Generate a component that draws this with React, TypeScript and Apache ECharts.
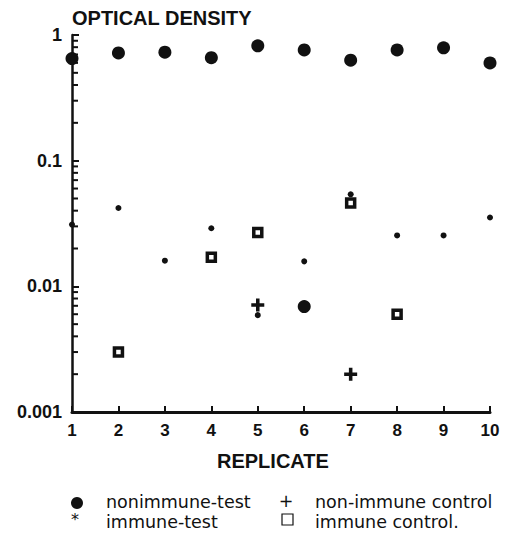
import React, { useEffect, useRef } from "react";
import * as echarts from "echarts";

const replicates = [1, 2, 3, 4, 5, 6, 7, 8, 9, 10];
const nonimmuneTest = [0.65, 0.72, 0.73, 0.66, 0.82, 0.76, 0.63, 0.76, 0.79, 0.6];
const nonimmuneTestExtra = [[6, 0.0069]];
const immuneTest = [0.031, 0.042, 0.016, 0.029, 0.0059, 0.0158, 0.054, 0.0254, 0.0254, 0.0353];
const immuneControl = [[2, 0.003], [4, 0.017], [5, 0.0268], [7, 0.046], [8, 0.006]];
const nonImmuneControl = [[5, 0.0071], [7, 0.002]];
const decades = [0.001, 0.01, 0.1];
const minorMultipliers = [2, 3, 4, 5, 6, 7, 8, 9];

const INK = "#111";
const PLUS = "path://M4,0H7V4H11V7H7V11H4V7H0V4H4Z";

export default function App() {
  const ref = useRef<HTMLDivElement>(null);
  useEffect(() => {
    if (!ref.current) return;
    const chart = echarts.init(ref.current, null, { renderer: "svg" });
    const minorTicks: number[][] = [];
    decades.forEach((d) => minorMultipliers.forEach((m) => minorTicks.push([1, d * m])));
    const labelFont = { fontFamily: "Liberation Sans", fontWeight: "bold" as const, fontSize: 17, color: INK };
    const legendFont = "17.5px 'DejaVu Sans'";
    chart.setOption({
      animation: false,
      backgroundColor: "#fff",
      grid: { left: 72, right: 23, top: 35, bottom: 130 },
      xAxis: {
        type: "value",
        min: 1,
        max: 10,
        interval: 1,
        axisLine: { show: true, lineStyle: { color: INK, width: 3 } },
        axisTick: { show: true, inside: true, length: 6, lineStyle: { color: INK, width: 2 } },
        axisLabel: { ...labelFont, margin: 10, formatter: (v: number) => String(v) },
        splitLine: { show: false },
      },
      yAxis: {
        type: "log",
        logBase: 10,
        min: 0.001,
        max: 1,
        axisLine: { show: true, lineStyle: { color: INK, width: 2.5 } },
        axisTick: { show: true, inside: true, length: 7, lineStyle: { color: INK, width: 2 } },
        axisLabel: { ...labelFont, fontSize: 18, margin: 10, formatter: (v: number) => String(v) },
        splitLine: { show: false },
      },
      graphic: [
        { type: "text", left: 72, top: 8, style: { text: "OPTICAL DENSITY", font: "bold 20px 'Liberation Sans'", fill: INK } },
        { type: "text", left: 217, top: 451, style: { text: "REPLICATE", font: "bold 20px 'Liberation Sans'", fill: INK } },
        { type: "circle", shape: { cx: 77, cy: 503, r: 6 }, style: { fill: INK } },
        { type: "text", x: 106, y: 502, style: { text: "nonimmune-test", font: legendFont, fill: INK, verticalAlign: "middle" } },
        { type: "text", x: 286, y: 501, style: { text: "+", font: legendFont, fill: INK, align: "center", verticalAlign: "middle" } },
        { type: "text", x: 315, y: 502, style: { text: "non-immune control", font: legendFont, fill: INK, verticalAlign: "middle" } },
        { type: "text", x: 75, y: 519, style: { text: "*", font: "16px 'DejaVu Sans'", fill: INK, align: "center", verticalAlign: "middle" } },
        { type: "text", x: 106, y: 522, style: { text: "immune-test", font: legendFont, fill: INK, verticalAlign: "middle" } },
        { type: "rect", shape: { x: 282, y: 514, width: 11, height: 11 }, style: { fill: "none", stroke: INK, lineWidth: 1.2 } },
        { type: "text", x: 315, y: 522, style: { text: "immune control.", font: legendFont, fill: INK, verticalAlign: "middle" } },
      ],
      series: [
        {
          type: "scatter",
          name: "minor ticks",
          clip: false,
          silent: true,
          symbol: "rect",
          symbolSize: [6, 2],
          symbolOffset: [3, 0],
          itemStyle: { color: INK, opacity: 1 },
          data: minorTicks,
        },
        {
          type: "scatter",
          name: "nonimmune-test",
          clip: false,
          symbol: "circle",
          symbolSize: 13,
          itemStyle: { color: INK, opacity: 1 },
          data: [...replicates.map((r, i) => [r, nonimmuneTest[i]]), ...nonimmuneTestExtra],
        },
        {
          type: "scatter",
          name: "immune-test",
          clip: false,
          symbol: "circle",
          symbolSize: 6,
          itemStyle: { color: INK, opacity: 1 },
          data: replicates.map((r, i) => [r, immuneTest[i]]),
        },
        {
          type: "scatter",
          name: "immune control",
          clip: false,
          symbol: "rect",
          symbolSize: 8,
          itemStyle: { color: "#fff", borderColor: INK, borderWidth: 3.5, opacity: 1 },
          data: immuneControl,
        },
        {
          type: "scatter",
          name: "non-immune control",
          clip: false,
          symbol: PLUS,
          symbolSize: 13,
          itemStyle: { color: INK, opacity: 1 },
          data: nonImmuneControl,
        },
      ],
    });
    return () => chart.dispose();
  }, []);
  return <div ref={ref} style={{ position: "fixed", left: 0, top: 0, width: 513, height: 542 }} />;
}
